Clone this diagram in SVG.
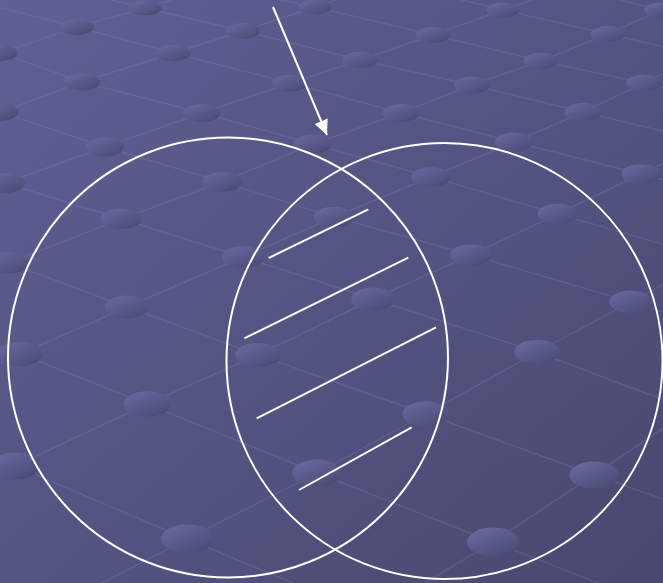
<svg xmlns="http://www.w3.org/2000/svg" width="663" height="583" viewBox="0 0 663 583">
  <defs>
    <linearGradient id="bg" x1="0" y1="0" x2="1" y2="1">
      <stop offset="0" stop-color="#5f6094"/>
      <stop offset="1" stop-color="#48486f"/>
    </linearGradient>
    <linearGradient id="dot" x1="0.15" y1="0.1" x2="0.85" y2="0.95">
      <stop offset="0" stop-color="#66679d"/>
      <stop offset="0.55" stop-color="#575887"/>
      <stop offset="1" stop-color="#494a72"/>
    </linearGradient>
    <marker id="ah" markerUnits="userSpaceOnUse" markerWidth="16" markerHeight="16" refX="15" refY="7" orient="auto">
      <path d="M0,0 L15,7 L0,14 Z" fill="#ffffff"/>
    </marker>
    <style>
      .grid polyline { fill: none; stroke: #7a7cb4; stroke-opacity: 0.32; stroke-width: 1.4; stroke-linejoin: round; }
      .dots ellipse { fill: url(#dot); }
      .shape { fill: none; stroke: #ffffff; stroke-width: 2; }
      .hatch line { stroke: #ffffff; stroke-width: 2; }
    </style>
  </defs>

  <rect x="0" y="0" width="663" height="583" fill="url(#bg)"/>

  <g id="background-grid" class="grid">
    <polyline points="-80,80 0,53 77,27 145,8 210,-12"/>
    <polyline points="-90,145 0,112 82,82 173,53 243,31 315,7 385,-16"/>
    <polyline points="-95,219 5,183 105,147 202,113 290,83 360,60 433,35 503,10 573,-15"/>
    <polyline points="-105,307 8,263 121,219 222,182 313,144 401,113 472,85 541,61 608,34 661,10 715,-14"/>
    <polyline points="-90,402 20,354 127,307 243,257 334,217 431,177 514,142 583,112 644,83 705,54"/>
    <polyline points="-120,530 15,466 147,404 258,355 373,299 471,255 558,214 641,174 720,136"/>
    <polyline points="50,610 187,539 317,473 426,414 537,352 631,302 720,254"/>
    <polyline points="380,610 493,542 594,475 690,410"/>
    <polyline points="-120,420 15,466 187,539 370,615"/>
    <polyline points="-100,310 20,354 147,404 317,473 493,542 680,615"/>
    <polyline points="-110,225 8,263 127,307 258,355 426,414 594,475 780,540"/>
    <polyline points="-110,150 5,183 121,219 243,257 373,299 537,352 690,410"/>
    <polyline points="-100,80 0,112 105,147 222,182 334,217 471,255 631,302 790,350"/>
    <polyline points="-80,30 0,53 82,82 202,113 313,144 431,177 558,214 700,255"/>
    <polyline points="-10,5 77,27 173,53 290,83 401,113 514,142 641,174 780,210"/>
    <polyline points="60,-12 145,8 243,31 360,60 472,85 583,112 700,140"/>
    <polyline points="210,-15 315,7 433,35 541,61 644,83 720,100"/>
    <polyline points="400,-15 503,10 608,34 720,60"/>
    <polyline points="560,-15 661,10 720,24"/>
  </g>

  <g id="background-dots" class="dots">
    <ellipse cx="145" cy="8" rx="16.6" ry="7.6"/>
    <ellipse cx="315" cy="7" rx="16.6" ry="7.6"/>
    <ellipse cx="503" cy="10" rx="16.7" ry="7.6"/>
    <ellipse cx="661" cy="10" rx="16.7" ry="7.6"/>
    <ellipse cx="77" cy="27" rx="17" ry="7.9"/>
    <ellipse cx="243" cy="31" rx="17.1" ry="7.9"/>
    <ellipse cx="433" cy="35" rx="17.1" ry="7.9"/>
    <ellipse cx="608" cy="34" rx="17.1" ry="7.9"/>
    <ellipse cx="0" cy="53" rx="17.5" ry="8.2"/>
    <ellipse cx="173" cy="53" rx="17.5" ry="8.2"/>
    <ellipse cx="360" cy="60" rx="17.5" ry="8.2"/>
    <ellipse cx="541" cy="61" rx="17.5" ry="8.2"/>
    <ellipse cx="82" cy="82" rx="18" ry="8.6"/>
    <ellipse cx="290" cy="83" rx="18" ry="8.6"/>
    <ellipse cx="472" cy="85" rx="18" ry="8.6"/>
    <ellipse cx="644" cy="83" rx="18" ry="8.6"/>
    <ellipse cx="0" cy="112" rx="18.5" ry="9"/>
    <ellipse cx="202" cy="113" rx="18.5" ry="9"/>
    <ellipse cx="401" cy="113" rx="18.5" ry="9"/>
    <ellipse cx="583" cy="112" rx="18.5" ry="9"/>
    <ellipse cx="105" cy="147" rx="19" ry="9.4"/>
    <ellipse cx="313" cy="144" rx="19" ry="9.4"/>
    <ellipse cx="514" cy="142" rx="19" ry="9.4"/>
    <ellipse cx="5" cy="183" rx="19.6" ry="9.8"/>
    <ellipse cx="222" cy="182" rx="19.6" ry="9.8"/>
    <ellipse cx="431" cy="177" rx="19.6" ry="9.8"/>
    <ellipse cx="641" cy="174" rx="19.6" ry="9.8"/>
    <ellipse cx="121" cy="219" rx="20.3" ry="10.3"/>
    <ellipse cx="334" cy="217" rx="20.3" ry="10.3"/>
    <ellipse cx="558" cy="214" rx="20.3" ry="10.3"/>
    <ellipse cx="8" cy="263" rx="21" ry="10.8"/>
    <ellipse cx="243" cy="257" rx="21" ry="10.8"/>
    <ellipse cx="471" cy="255" rx="21" ry="10.8"/>
    <ellipse cx="127" cy="307" rx="21.7" ry="11.4"/>
    <ellipse cx="373" cy="299" rx="21.7" ry="11.4"/>
    <ellipse cx="631" cy="302" rx="21.7" ry="11.4"/>
    <ellipse cx="20" cy="354" rx="22.7" ry="12.1"/>
    <ellipse cx="258" cy="355" rx="22.7" ry="12.1"/>
    <ellipse cx="537" cy="352" rx="22.7" ry="12.1"/>
    <ellipse cx="147" cy="404" rx="23.6" ry="12.8"/>
    <ellipse cx="426" cy="414" rx="23.6" ry="12.8"/>
    <ellipse cx="15" cy="466" rx="24.7" ry="13.6"/>
    <ellipse cx="317" cy="473" rx="24.7" ry="13.6"/>
    <ellipse cx="594" cy="475" rx="24.7" ry="13.6"/>
    <ellipse cx="187" cy="539" rx="26" ry="14.5"/>
    <ellipse cx="493" cy="542" rx="26" ry="14.5"/>
  </g>

  <g id="set-left">
    <circle class="shape" cx="228" cy="357.5" r="220"/>
  </g>
  <g id="set-right">
    <circle class="shape" cx="444.5" cy="361" r="218"/>
  </g>

  <g id="intersection-hatch" class="hatch">
    <line x1="268.7" y1="258" x2="368.3" y2="209.3"/>
    <line x1="244.3" y1="338.3" x2="408.3" y2="257.7"/>
    <line x1="256.7" y1="418.3" x2="436" y2="327.3"/>
    <line x1="299" y1="490" x2="411.7" y2="427.3"/>
  </g>

  <g id="connectors">
    <line x1="273" y1="7" x2="327" y2="135" stroke="#ffffff" stroke-width="2" marker-end="url(#ah)"/>
  </g>
</svg>
